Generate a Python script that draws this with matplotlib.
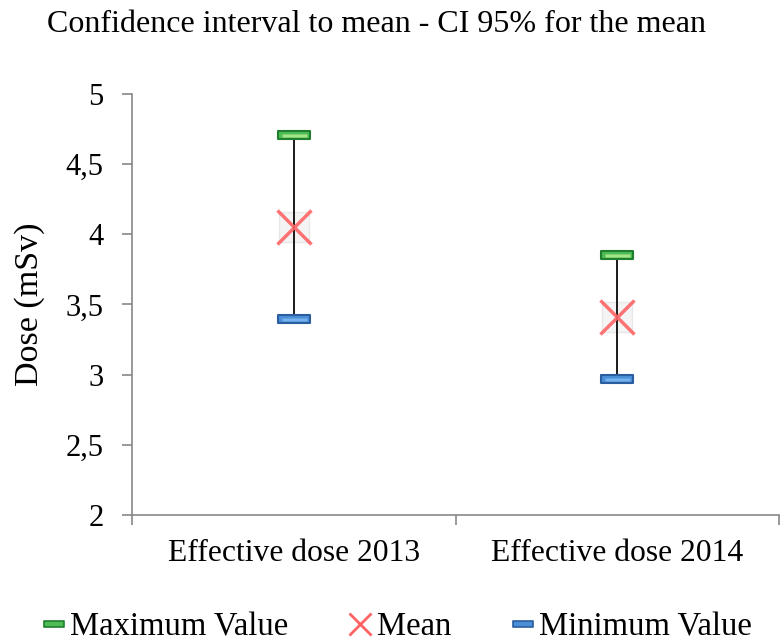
import matplotlib
matplotlib.use("Agg")
import matplotlib.pyplot as plt
from matplotlib.lines import Line2D
from matplotlib.path import Path
from matplotlib.ticker import FixedLocator, FuncFormatter
import numpy as np

categories = ["Effective dose 2013", "Effective dose 2014"]
max_vals = [4.71, 3.85]
mean_vals = [4.05, 3.41]
min_vals = [3.40, 2.97]
y_ticks = [2, 2.5, 3, 3.5, 4, 4.5, 5]

plt.rcParams['font.family'] = ['Liberation Serif', 'DejaVu Serif']

fig = plt.figure(figsize=(7.82, 6.41), dpi=100)
ax = fig.add_axes([0.1688, 0.1966, 0.8274, 0.6568])

x = np.arange(len(categories))

bar_marker = Path([(-1, -0.27), (1, -0.27), (1, 0.27), (-1, 0.27), (-1, -0.27)],
                  [Path.MOVETO, Path.LINETO, Path.LINETO, Path.LINETO, Path.CLOSEPOLY])
stripe_marker = Path([(-1, -0.12), (1, -0.12), (1, 0.12), (-1, 0.12), (-1, -0.12)],
                     [Path.MOVETO, Path.LINETO, Path.LINETO, Path.LINETO, Path.CLOSEPOLY])

# shadow squares behind the mean
ax.plot(x, mean_vals, linestyle='none', marker='s', ms=22, mfc='#f4f4f4',
        mec='#e8e8e8', mew=1, zorder=1)

# high-low lines
ax.vlines(x, min_vals, max_vals, color='#1a1a1a', lw=1.4, zorder=2)

ax.plot(x, max_vals, linestyle='none', marker=bar_marker, ms=23, mfc='#4cbd55',
        mec='#1f7f2e', mew=1.5, zorder=4)
ax.plot(x, max_vals, linestyle='none', marker=stripe_marker, ms=18, mfc='#a6e58a',
        mec='none', zorder=4.5)
ax.plot(x, min_vals, linestyle='none', marker=bar_marker, ms=23, mfc='#4a8fd8',
        mec='#2a5e9e', mew=1.5, zorder=4)
ax.plot(x, min_vals, linestyle='none', marker=stripe_marker, ms=18, mfc='#78b2ee',
        mec='none', zorder=4.5)
ax.plot(x, mean_vals, linestyle='none', marker='x', ms=24, mec='#ff6464',
        mew=2.5, alpha=0.9, zorder=5)

ax.set_xlim(-0.5, 1.5)
ax.set_ylim(2, 5)
ax.yaxis.set_major_locator(FixedLocator(y_ticks))
ax.yaxis.set_major_formatter(FuncFormatter(lambda v, p: ('%g' % v).replace('.', ',')))
ax.set_xticks([-0.5, 0.5, 1.5])
ax.set_xticklabels([])
ax.set_xticks(x, minor=True)
ax.set_xticklabels(categories, minor=True)
ax.tick_params(axis='x', which='minor', length=0, pad=17, labelsize=22.8)
ax.tick_params(axis='x', which='major', length=7, color='#888888', width=1.2)
ax.tick_params(axis='y', length=7, color='#888888', width=1.2, labelsize=22, pad=13.5)

for s in ['top', 'right']:
    ax.spines[s].set_visible(False)
for s in ['left', 'bottom']:
    ax.spines[s].set_color('#888888')
    ax.spines[s].set_linewidth(1.2)

ax.set_ylabel("Dose (mSv)", fontsize=24.5, labelpad=15)
fig.text(0.060, 0.962, "Confidence interval to mean - CI 95% for the mean",
         fontsize=23, ha='left', va='center')

handles = [
    Line2D([], [], linestyle='none', marker=bar_marker, ms=14, mfc='#4cbd55', mec='#1f7f2e', mew=1.2),
    Line2D([], [], linestyle='none', marker='x', ms=16, mec='#ff6464', mew=2),
    Line2D([], [], linestyle='none', marker=bar_marker, ms=14, mfc='#4a8fd8', mec='#2a5e9e', mew=1.2),
]
fig.legend(handles, ["Maximum Value", "Mean", "Minimum Value"], loc='center',
           bbox_to_anchor=(0.509, 0.022), ncol=3, frameon=False, fontsize=23.5,
           handlelength=0.6, handletextpad=0.2, columnspacing=1.9)

fig.savefig("out.png", dpi=100)
